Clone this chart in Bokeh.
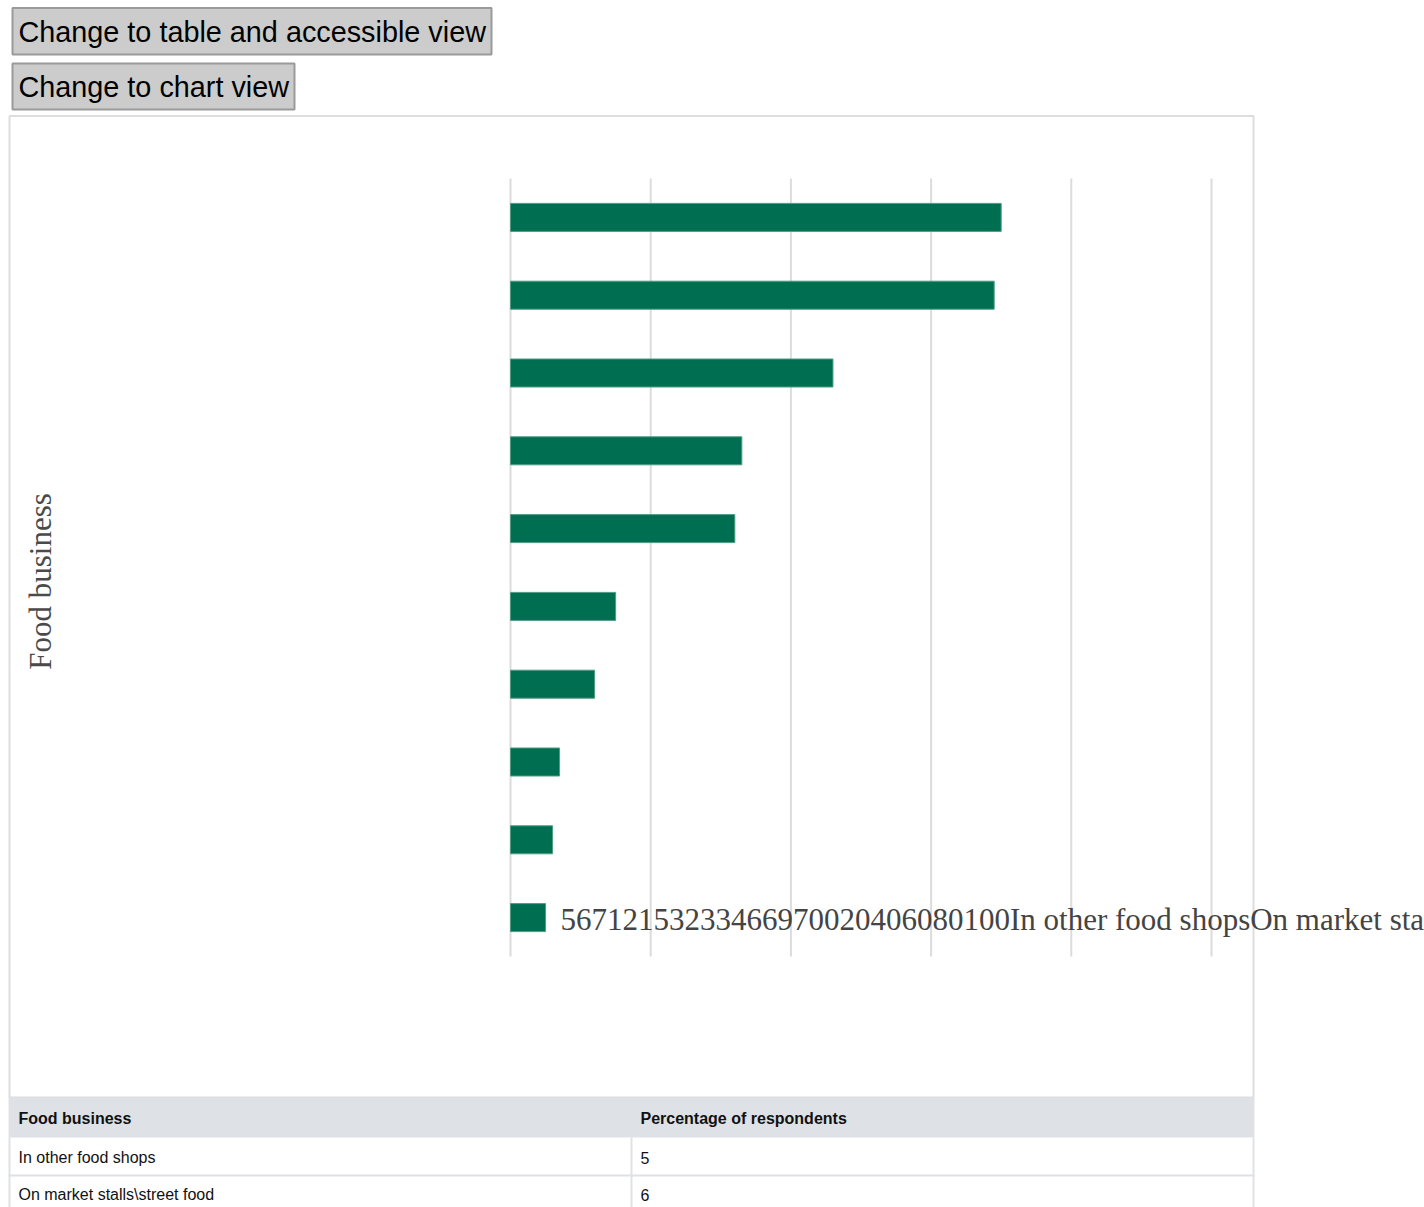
import math
from bokeh.plotting import figure
from bokeh.models import (ColumnDataSource, Range1d, FactorRange, BoxAnnotation, Label)
from bokeh.embed import file_html
from bokeh.resources import INLINE

# ---- data (bottom bar first) ----
categories = ["In other food shops", "On market stalls\\street food", "In sandwich shops",
              "In bakeries", "In independent shops", "In pubs\\bars",
              "In cafés\\coffee shops", "In fast food outlets", "In takeaways",
              "In restaurants"]
values = [5, 6, 7, 12, 15, 32, 33, 46, 69, 70]
x_ticks = [0, 20, 40, 60, 80, 100]
y_title = "Food business"
value_title = "Percentage of respondents"
button_labels = ["Change to table and accessible view", "Change to chart view"]

# ---- layout constants (page pixels) ----
BAR = "#006e51"
W, H = 1424, 1207
X0_PX, X100_PX = 510, 1211          # where 0 and 100 % fall
TOP_PX, BOT_PX = 178, 956           # plot band top/bottom
n = len(categories)
step = (BOT_PX - TOP_PX) / n        # px per category
pxu = (X100_PX - X0_PX) / 100.0
x_start = -X0_PX / pxu
x_end = x_start + W / pxu
# a blank spacer group below the bars; padding chosen so the band sits at TOP_PX..BOT_PX
pad = TOP_PX / step
gpad = (H - BOT_PX - TOP_PX) / step - 1
y_factors = [("s", " ")] + [("c", c) for c in categories]

p = figure(width=W, height=H, output_backend="svg", toolbar_location=None,
           x_range=Range1d(x_start, x_end),
           y_range=FactorRange(factors=y_factors, range_padding=pad,
                               range_padding_units="absolute", group_padding=gpad,
                               factor_padding=0),
           x_axis_location=None, y_axis_location=None, min_border=0,
           background_fill_color="white", border_fill_color="white",
           outline_line_color=None)
p.grid.visible = False

# page pixel -> screen units (frame == canvas, y measured from the bottom)
def sy(Y):
    return H - Y

def box(l, r, t, b, fill=None, line=None, lw=1):
    kw = dict(left=l, right=r, top=sy(t), bottom=sy(b),
              left_units="screen", right_units="screen", top_units="screen",
              bottom_units="screen", level="annotation")
    if fill is None:
        kw.update(fill_alpha=0)
    else:
        kw.update(fill_color=fill, fill_alpha=1)
    if line is None:
        kw.update(line_alpha=0)
    else:
        kw.update(line_color=line, line_width=lw, line_alpha=1)
    p.add_layout(BoxAnnotation(**kw))

def label(x, y, text, size, font="Liberation Sans", color="black", style="normal",
          align="left", baseline="middle", angle=0):
    p.add_layout(Label(x=x, y=sy(y), x_units="screen", y_units="screen", text=text,
                       text_font=font, text_font_size=size, text_color=color,
                       text_font_style=style, text_align=align, text_baseline=baseline,
                       angle=angle))

# buttons
box(12, 491, 7.5, 54, fill="#cccccc", line="#9a9a9a", lw=2)
label(18, 31, button_labels[0], "28.8px")
box(12, 294, 63, 109, fill="#cccccc", line="#9a9a9a", lw=2)
label(18, 86, button_labels[1], "28.8px")

# chart container
box(9, 1253, 115.5, 1097, line="#dddddd", lw=2)

# vertical grid lines limited to the bar band
grid_src = ColumnDataSource(dict(x=x_ticks,
                                 y0=[("c", categories[0], -0.5)] * len(x_ticks),
                                 y1=[("c", categories[-1], 0.5)] * len(x_ticks)))
p.segment(x0="x", x1="x", y0="y0", y1="y1", source=grid_src,
          line_color="#dcdcdc", line_width=2)

# bars
src = ColumnDataSource(dict(cat=[("c", c) for c in categories], val=values))
p.hbar(y="cat", left=0, right="val", height=0.36, source=src,
       fill_color=BAR, line_color="#4f9c84", line_width=1)

# axis title + run-on label text
label(40, 581, y_title, "31px", font="Liberation Serif", color="#4a4a4a",
      align="center", baseline="middle", angle=math.pi / 2)
runon = "".join(str(v) for v in values) + "".join(str(t) for t in x_ticks) + "".join(categories)
label(560, 919, runon, "31px", font="Liberation Serif", color="#444444")

# table
TBL = "#dee2e6"
box(8, 1254, 1097, 1137, fill=TBL)
box(8, 10, 1137, 1210, fill=TBL)
box(630, 632, 1137, 1210, fill=TBL)
box(1252, 1254, 1137, 1210, fill=TBL)
box(8, 1254, 1174, 1176, fill=TBL)
label(18, 1118, y_title, "16px", color="#111111", style="bold")
label(640, 1118, value_title, "16px", color="#111111", style="bold")
label(18, 1157, categories[0], "16px", color="#111111")
label(640, 1157, str(values[0]), "16px", color="#111111")
label(18, 1194, categories[1], "16px", color="#111111")
label(640, 1194, str(values[1]), "16px", color="#111111")

open("out.html", "w").write(file_html(p, INLINE))
